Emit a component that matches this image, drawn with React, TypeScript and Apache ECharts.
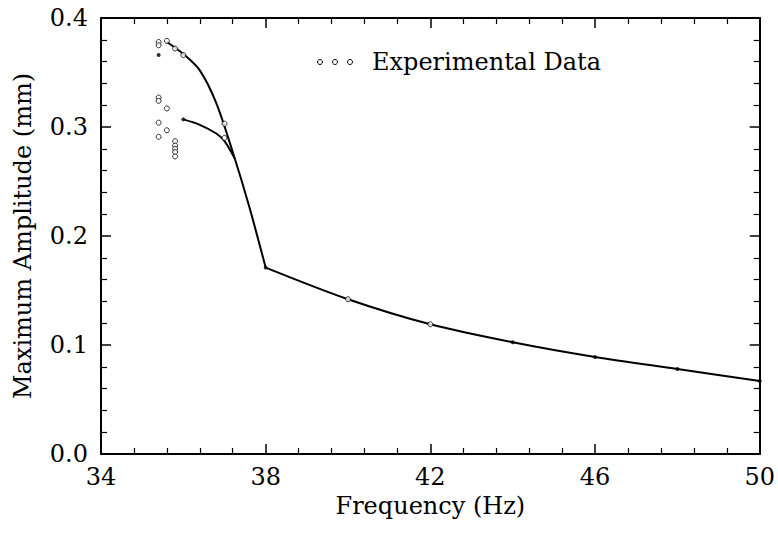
import React, { useEffect, useRef } from "react";
import * as echarts from "echarts";

// ---- data ----
const xTicks = [34, 38, 42, 46, 50];
const yTicks = [0.0, 0.1, 0.2, 0.3, 0.4];

// upper (jump-down) branch of the response curve
const upperFreq = [35.6, 36.0, 36.4, 36.8, 37.2, 37.6, 38.0];
const upperAmp = [0.378, 0.367, 0.352, 0.322, 0.277, 0.227, 0.171];

// lower branch joining the upper one
const lowerFreq = [36.0, 36.4, 36.8, 37.0, 37.25];
const lowerAmp = [0.307, 0.302, 0.294, 0.287, 0.271];

// high-frequency tail
const tailFreq = [38, 40, 42, 44, 46, 48, 50];
const tailAmp = [0.171, 0.142, 0.119, 0.1025, 0.089, 0.078, 0.067];

// experimental data (open circles)
const expFreq = [35.4, 35.4, 35.4, 35.4, 35.4, 35.4, 35.6, 35.6, 35.6, 35.8, 35.8, 35.8, 35.8, 35.8, 35.8, 36.0, 37.0, 37.0, 40, 42];
const expAmp = [0.378, 0.375, 0.327, 0.324, 0.304, 0.291, 0.379, 0.317, 0.297, 0.372, 0.287, 0.283, 0.28, 0.277, 0.273, 0.366, 0.303, 0.29, 0.142, 0.119];

// computed points (small filled dots)
const calcFreq = [35.4, 36.0, 38, 44, 46, 48, 50];
const calcAmp = [0.366, 0.307, 0.171, 0.1025, 0.089, 0.078, 0.067];

const FONT = "DejaVu Serif";

const zip = (a: number[], b: number[]) => a.map((v, i) => [v, b[i]]);

export default function App() {
  const ref = useRef<HTMLDivElement>(null);
  useEffect(() => {
    if (!ref.current) return;
    const chart = echarts.init(ref.current, undefined, { renderer: "svg" });
    const axisCommon = {
      axisLine: { show: true, onZero: false, lineStyle: { color: "#000", width: 2 } },
      axisTick: { show: true, inside: true, length: 10, lineStyle: { color: "#000", width: 1.5 } },
      minorTick: { show: true, splitNumber: 5, length: 6, lineStyle: { color: "#000", width: 1.2 } },
      splitLine: { show: false },
    };
    const xBase = { type: "value", min: xTicks[0], max: xTicks[xTicks.length - 1], interval: 4 };
    const yBase = { type: "value", min: yTicks[0], max: yTicks[yTicks.length - 1], interval: 0.1 };
    chart.setOption({
      animation: false,
      backgroundColor: "#fff",
      grid: { left: 101, right: 18, top: 18, bottom: 79 },
      xAxis: [
        {
          ...xBase,
          ...axisCommon,
          position: "bottom",
          name: "Frequency (Hz)",
          nameLocation: "middle",
          nameGap: 36,
          nameTextStyle: { fontFamily: FONT, fontSize: 24, color: "#000" },
          axisLabel: { fontFamily: FONT, fontSize: 24, color: "#000", margin: 11 },
        },
        { ...xBase, ...axisCommon, position: "top", axisLabel: { show: false } },
      ],
      yAxis: [
        {
          ...yBase,
          ...axisCommon,
          position: "left",
          name: "Maximum Amplitude (mm)",
          nameLocation: "middle",
          nameGap: 66,
          nameRotate: 90,
          nameTextStyle: { fontFamily: FONT, fontSize: 24, color: "#000" },
          axisLabel: {
            fontFamily: FONT,
            fontSize: 24,
            color: "#000",
            margin: 13,
            formatter: (v: number) => v.toFixed(1),
          },
        },
        { ...yBase, ...axisCommon, position: "right", axisLabel: { show: false } },
      ],
      graphic: [
        { type: "circle", shape: { cx: 320, cy: 62, r: 2.5 }, style: { fill: "#fff", stroke: "#000", lineWidth: 1 } },
        { type: "circle", shape: { cx: 335, cy: 62, r: 2.5 }, style: { fill: "#fff", stroke: "#000", lineWidth: 1 } },
        { type: "circle", shape: { cx: 350, cy: 62, r: 2.5 }, style: { fill: "#fff", stroke: "#000", lineWidth: 1 } },
        {
          type: "text",
          x: 372,
          y: 62,
          style: {
            text: "Experimental Data",
            fontFamily: FONT,
            fontSize: 24,
            fill: "#000",
            textAlign: "left",
            textVerticalAlign: "middle",
          },
        },
      ],
      series: [
        {
          type: "line",
          data: zip(upperFreq, upperAmp),
          smooth: 0.3,
          showSymbol: false,
          lineStyle: { color: "#000", width: 2 },
        },
        {
          type: "line",
          data: zip(lowerFreq, lowerAmp),
          smooth: 0.3,
          showSymbol: false,
          lineStyle: { color: "#000", width: 2 },
        },
        {
          type: "line",
          data: zip(tailFreq, tailAmp),
          smooth: 0.3,
          showSymbol: false,
          lineStyle: { color: "#000", width: 2 },
        },
        {
          type: "scatter",
          data: zip(expFreq, expAmp),
          symbol: "circle",
          symbolSize: 5,
          itemStyle: { color: "#fff", borderColor: "#000", borderWidth: 1 },
          z: 5,
        },
        {
          type: "scatter",
          data: zip(calcFreq, calcAmp),
          symbol: "circle",
          symbolSize: 4,
          itemStyle: { color: "#000" },
          z: 6,
        },
      ],
    });
    return () => chart.dispose();
  }, []);
  return <div ref={ref} style={{ width: 778, height: 533, position: "absolute", left: 0, top: 0 }} />;
}
